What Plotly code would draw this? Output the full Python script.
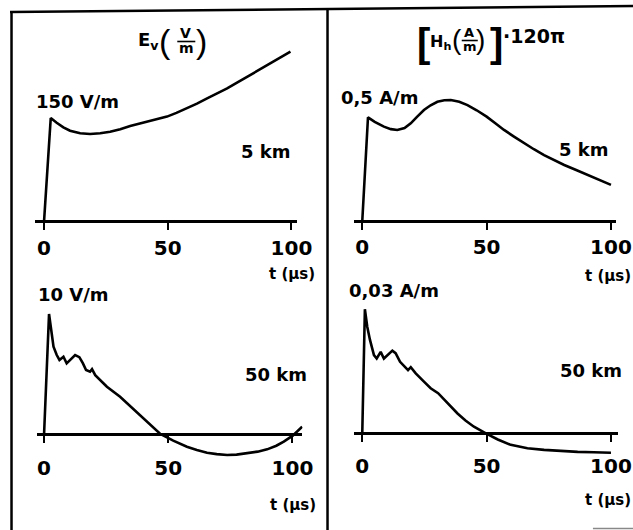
import plotly.graph_objects as go

# ---------------- data ----------------
# top-left: E_v at 5 km (V/m)
t_e5 = [0, 2.7, 5.1, 7.8, 10.5, 14.6, 18.6, 22.7, 26.7, 30.8, 34.8, 38.9, 45, 49.7, 53.5, 57.8,
        61.8, 65.9, 70, 74, 78, 82, 86, 90.2, 95, 99.6]
e5 = [0, 150, 143.1, 136.4, 131.5, 127.7, 126.7, 127.7, 130, 133.6, 138.3, 142.3, 148.5, 152, 157.5,
      164, 171, 178.7, 186, 193, 201.5, 210, 218.5, 227, 237, 246.5]

# top-right: H_h at 5 km (A/m)
t_h5 = [0, 2.3, 5, 8.7, 11.5, 14.1, 17, 19.5, 22, 24.8, 27.5, 30.2, 33, 35.6, 39, 42.3, 46, 50,
        53.5, 57, 61, 65.1, 69, 73.1, 77, 81.2, 86, 90.6, 95, 100]
h5 = [0, 0.5, 0.478, 0.455, 0.443, 0.439, 0.448, 0.471, 0.502, 0.535, 0.558, 0.575, 0.582, 0.583,
      0.575, 0.559, 0.534, 0.503, 0.471, 0.439, 0.407, 0.375, 0.346, 0.318, 0.294, 0.270, 0.246,
      0.222, 0.198, 0.174]

# bottom-left: E_v at 50 km (V/m)
t_e50 = [0, 2.0, 2.7, 3.8, 5.1, 6.2, 7.8, 9.1, 12.5, 14.2, 15.6, 16.9, 18.5, 19.3, 20.6, 21.9, 25.3,
         30.6, 34.5, 38.7, 42.5, 46.8, 52, 57.5, 61.5, 65.6, 69.5, 73.7, 77.5, 81.7, 86, 89.8, 93.5,
         96.5, 100.1, 103.9]
e50 = [0, 10.0, 8.94, 7.28, 6.58, 6.17, 6.44, 5.89, 6.58, 6.4, 5.9, 5.33, 5.19, 5.4, 4.9, 4.64, 3.94,
       3.1, 2.35, 1.58, 0.8, 0, -0.55, -1.06, -1.33, -1.56, -1.68, -1.75, -1.72, -1.61, -1.47, -1.28,
       -0.98, -0.64, -0.14, 0.61]

# bottom-right: H_h at 50 km (A/m)
t_h50 = [0, 1.05, 2.0, 3.1, 4.7, 5.8, 7.4, 8.7, 12.1, 13.4, 15.2, 16.8, 18.4, 19.5, 21.5, 24.8, 27.5,
         30.5, 34.5, 38.3, 41.5, 44.9, 49.7, 54.5, 59.7, 66.4, 73.1, 80, 86.6, 93, 100]
h50 = [0, 0.03, 0.0258, 0.0226, 0.0189, 0.0181, 0.0197, 0.0181, 0.0200, 0.0194, 0.0173, 0.0163,
       0.0153, 0.0160, 0.0145, 0.0125, 0.0109, 0.0097, 0.0072, 0.0048, 0.0031, 0.0016, 0.0,
       -0.0015, -0.0028, -0.0036, -0.0040, -0.0043, -0.0045, -0.0046, -0.0047]

tick_vals = [0, 50, 100]
tick_text = ["0", "50", "100"]

# ---------------- layout helpers ----------------
W, H = 633, 530          # target picture size (positions below are in these pixels)
FIG_W = 650              # figure width (the capture squeezes it horizontally)
FONT = "DejaVu Sans"

def xp(p):
    return p / W

def yp(p):
    return 1 - p / H

panels = [
    dict(x0=44, x100=291, L=35, R=297, y0=221, yr=118, rv=150, T=40, B=221, so=1),
    dict(x0=361.7, x100=610, L=353, R=615, y0=221, yr=117.3, rv=0.5, T=60, B=221, so=0),
    dict(x0=44, x100=292, L=37, R=302, y0=434, yr=314, rv=10, T=300, B=470, so=8),
    dict(x0=361.7, x100=610, L=353, R=617, y0=433.3, yr=309.3, rv=0.03, T=300, B=470, so=7),
]
series = [(t_e5, e5), (t_h5, h5), (t_e50, e50), (t_h50, h50)]

fig = go.Figure()
for i, (p, (tx, vy)) in enumerate(zip(panels, series), start=1):
    sfx = "" if i == 1 else str(i)
    fig.add_trace(go.Scatter(
        x=tx, y=vy, mode="lines",
        line=dict(color="black", width=2.6, shape="linear"),
        xaxis="x" + sfx, yaxis="y" + sfx, showlegend=False, hoverinfo="skip",
    ))
    sc = (p["x100"] - p["x0"]) / 100.0
    tL = (p["L"] - p["x0"]) / sc
    tR = (p["R"] - p["x0"]) / sc
    vpx = (p["y0"] - p["yr"]) / p["rv"]
    vB = (p["y0"] - p["B"]) / vpx
    vT = (p["y0"] - p["T"]) / vpx
    fig.layout["xaxis" + sfx] = dict(
        domain=[xp(p["L"]), xp(p["R"])], range=[tL, tR],
        anchor="free", position=yp(p["y0"]),
        showline=True, linecolor="black", linewidth=2.6,
        showgrid=False, zeroline=False,
        ticks="outside", ticklen=7, tickwidth=2.2, tickcolor="black",
        tickvals=tick_vals, ticktext=tick_text, ticklabelstandoff=p["so"],
        tickfont=dict(family=FONT, size=20, color="black", weight="bold"),
        fixedrange=True,
    )
    fig.layout["yaxis" + sfx] = dict(
        domain=[yp(p["B"]), yp(p["T"])], range=[vB, vT],
        visible=False, fixedrange=True, anchor="x" + sfx,
    )

def txt(x, y, s, size=18, weight="bold", family=FONT):
    return dict(x=xp(x), y=yp(y), xref="paper", yref="paper", text=s, showarrow=False,
                xanchor="center", yanchor="middle",
                font=dict(family=family, size=size, color="black", weight=weight))

ann = [
    txt(77, 101, "150 V/m"), txt(266, 152, "5 km"),
    txt(379, 98, "0,5 A/m"), txt(583, 150, "5 km"),
    txt(73, 294, "10 V/m"), txt(276, 374, "50 km"),
    txt(393, 290, "0,03 A/m"), txt(590, 370, "50 km"),
    txt(292, 274, "t (μs)", size=15), txt(607, 276, "t (μs)", size=15),
    txt(293, 505, "t (μs)", size=15), txt(607, 500, "t (μs)", size=15),
    # title E_v (V/m)
    txt(148, 41, "E<sub>v</sub>", size=18),
    txt(165, 41, "(", size=34, weight="normal", family="Liberation Sans"),
    txt(185, 33, "V", size=14), txt(186, 48, "m", size=14),
    txt(201, 41, ")", size=34, weight="normal", family="Liberation Sans"),
    # title [H_h (A/m)]·120π
    txt(423, 43, "[", size=40, weight="bold", family="Liberation Sans"),
    txt(440, 43, "H<sub>h</sub>", size=16),
    txt(456, 40, "(", size=28, weight="normal", family="Liberation Sans"),
    txt(468, 33, "A", size=13), txt(469, 47, "m", size=13),
    txt(480, 40, ")", size=28, weight="normal", family="Liberation Sans"),
    txt(496, 43, "]", size=40, weight="bold", family="Liberation Sans"),
    txt(533, 36, "·120π", size=19),
]

shapes = [
    dict(type="line", xref="paper", yref="paper", x0=xp(10), y0=yp(12), x1=1, y1=yp(6),
         line=dict(color="black", width=2.5)),
    dict(type="line", xref="paper", yref="paper", x0=xp(11.5), y0=yp(11), x1=xp(11.5), y1=0,
         line=dict(color="black", width=2.5)),
    dict(type="line", xref="paper", yref="paper", x0=xp(327), y0=yp(8), x1=xp(327), y1=0,
         line=dict(color="black", width=2.5)),
    dict(type="line", xref="paper", yref="paper", x0=xp(592), y0=yp(528.5), x1=1, y1=yp(528.5),
         line=dict(color="#888888", width=1.5)),
    dict(type="line", xref="paper", yref="paper", x0=xp(177), y0=yp(41.5), x1=xp(195), y1=yp(41.5),
         line=dict(color="black", width=1.6)),
    dict(type="line", xref="paper", yref="paper", x0=xp(461), y0=yp(40.5), x1=xp(477), y1=yp(40.5),
         line=dict(color="black", width=1.6)),
]

fig.update_layout(
    width=FIG_W, height=H, margin=dict(l=0, r=0, t=0, b=0),
    paper_bgcolor="white", plot_bgcolor="white",
    annotations=ann, shapes=shapes, showlegend=False,
)

fig.write_html("out.html")
